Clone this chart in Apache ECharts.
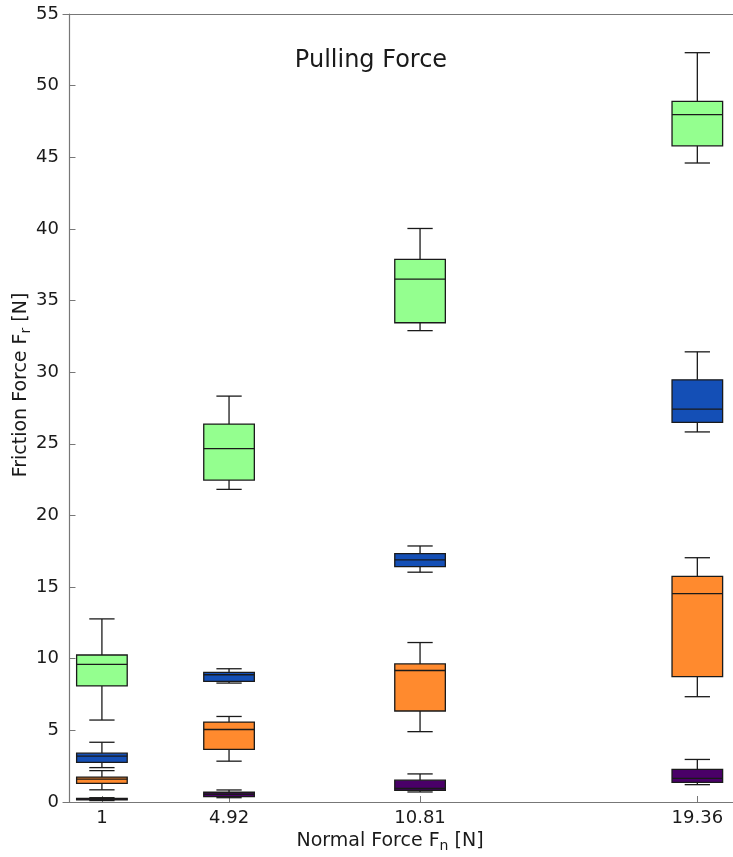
<!DOCTYPE html>
<html>
<head>
<meta charset="utf-8">
<script src="https://cdn.jsdelivr.net/npm/echarts@6/dist/echarts.min.js"></script>
<style>
  html, body { margin: 0; padding: 0; background: #fff; }
  #chart { width: 733px; height: 857px; }
</style>
</head>
<body>
<div id="chart"></div>
<script>
// Normal force levels on the x axis
const forces = [1, 4.92, 10.81, 19.36];
const forceTicks = ['1', '4.92', '10.81', '19.36'];
const yTicks = [0, 5, 10, 15, 20, 25, 30, 35, 40, 45, 50, 55];

// Box statistics per force level: [min, q1, median, q3, max]
const greenStats = [
  [5.72, 8.1, 9.6, 10.26, 12.78],
  [21.82, 22.47, 24.66, 26.38, 28.33],
  [32.9, 33.45, 36.5, 37.88, 40.03],
  [44.6, 45.8, 47.98, 48.9, 52.3]
];
const blueStats = [
  [2.4, 2.77, 3.2, 3.41, 4.17],
  [8.3, 8.42, 8.88, 9.05, 9.3],
  [16.04, 16.43, 16.9, 17.34, 17.87],
  [25.83, 26.5, 27.42, 29.47, 31.42]
];
const orangeStats = [
  [0.85, 1.3, 1.6, 1.74, 2.19],
  [2.85, 3.68, 5.06, 5.58, 5.97],
  [4.91, 6.35, 9.18, 9.64, 11.13],
  [7.35, 8.75, 14.55, 15.75, 17.05]
];
const purpleStats = [
  [0.1, 0.15, 0.2, 0.25, 0.3],
  [0.3, 0.37, 0.54, 0.68, 0.84],
  [0.7, 0.82, 0.95, 1.52, 1.96],
  [1.21, 1.37, 1.65, 2.28, 2.97]
];

const FONT = 'DejaVu Sans';
const BOX_WIDTH = 1.56;   // in x-axis units
const EDGE = '#1a1a1a';

function toRows(stats) {
  return stats.map((s, i) => [forces[i]].concat(s));
}

function renderBox(params, api) {
  const x = api.value(0);
  const pMin = api.coord([x, api.value(1)]);
  const pQ1 = api.coord([x, api.value(2)]);
  const pMed = api.coord([x, api.value(3)]);
  const pQ3 = api.coord([x, api.value(4)]);
  const pMax = api.coord([x, api.value(5)]);
  const w = api.size([BOX_WIDTH, 0])[0];
  const cx = pMed[0];
  const half = w / 2;
  const cap = w / 4;
  const lineStyle = { stroke: EDGE, lineWidth: 1.3 };
  return {
    type: 'group',
    children: [
      { type: 'line', shape: { x1: cx, y1: pMin[1], x2: cx, y2: pQ1[1] }, style: lineStyle },
      { type: 'line', shape: { x1: cx, y1: pQ3[1], x2: cx, y2: pMax[1] }, style: lineStyle },
      { type: 'line', shape: { x1: cx - cap, y1: pMin[1], x2: cx + cap, y2: pMin[1] }, style: lineStyle },
      { type: 'line', shape: { x1: cx - cap, y1: pMax[1], x2: cx + cap, y2: pMax[1] }, style: lineStyle },
      {
        type: 'rect',
        shape: { x: cx - half, y: pQ3[1], width: w, height: pQ1[1] - pQ3[1] },
        style: { fill: api.visual('color'), stroke: EDGE, lineWidth: 1.3 }
      },
      { type: 'line', shape: { x1: cx - half, y1: pMed[1], x2: cx + half, y2: pMed[1] }, style: lineStyle }
    ]
  };
}

function boxSeries(name, color, stats) {
  return {
    name: name,
    type: 'custom',
    xAxisIndex: 0,
    yAxisIndex: 0,
    renderItem: renderBox,
    itemStyle: { color: color },
    encode: { x: 0, y: [1, 2, 3, 4, 5] },
    data: toRows(stats),
    clip: true,
    silent: true
  };
}

const nameRich = {
  a: { fontFamily: FONT, fontSize: 19, color: '#1a1a1a', lineHeight: 19, verticalAlign: 'top' },
  s: { fontFamily: FONT, fontSize: 14, color: '#1a1a1a', lineHeight: 14, padding: [7, 0, 0, 0], verticalAlign: 'top' }
};

const chart = echarts.init(document.getElementById('chart'), null, { renderer: 'canvas' });

chart.setOption({
  animation: false,
  backgroundColor: '#ffffff',
  textStyle: { fontFamily: FONT },
  title: {
    text: 'Pulling Force',
    left: 366,
    top: 44,
    textAlign: 'center',
    textStyle: { fontFamily: FONT, fontSize: 24, fontWeight: 'normal', color: '#1a1a1a' }
  },
  grid: { left: 63, right: 0, top: 14, bottom: 55, containLabel: false, outerBoundsMode: 'none' },
  xAxis: [
    {
      type: 'value',
      min: -0.2,
      max: 20.46,
      position: 'bottom',
      name: '{a|Normal Force F}{s|n}{a| [N]}',
      nameLocation: 'middle',
      nameGap: 29,
      nameTextStyle: { rich: nameRich, padding: [0, 16, 0, 0] },
      axisLine: { show: true, lineStyle: { color: '#777', width: 1.2 } },
      axisTick: { show: true, inside: true, length: 6, customValues: forces, lineStyle: { color: '#777', width: 1 } },
      axisLabel: {
        show: true,
        customValues: forces,
        formatter: function (v) {
          const i = forces.indexOf(v);
          return i >= 0 ? forceTicks[i] : '';
        },
        fontFamily: FONT,
        fontSize: 18,
        color: '#1a1a1a',
        margin: 7
      },
      splitLine: { show: false }
    },
    {
      type: 'value',
      min: -0.2,
      max: 20.46,
      position: 'top',
      axisLine: { show: true, lineStyle: { color: '#777', width: 1.2 } },
      axisTick: { show: false },
      axisLabel: { show: false },
      splitLine: { show: false }
    }
  ],
  yAxis: {
    type: 'value',
    min: 0,
    max: 55,
    interval: 5,
    name: '{a|Friction Force F}{s|r}{a| [N]}',
    nameLocation: 'middle',
    nameGap: 32,
    nameMoveOverlap: false,
    nameRotate: 90,
    nameTextStyle: { rich: nameRich, padding: [0, 0, 0, 46] },
    axisLine: { show: true, lineStyle: { color: '#777', width: 1.2 } },
    axisTick: { show: true, inside: true, length: 6, lineStyle: { color: '#777', width: 1 } },
    axisLabel: {
      fontFamily: FONT,
      fontSize: 18,
      color: '#1a1a1a',
      margin: 4,
      formatter: function (v) { return yTicks.indexOf(v) >= 0 ? String(v) : ''; }
    },
    splitLine: { show: false }
  },
  series: [
    boxSeries('green', '#94ff8f', greenStats),
    boxSeries('blue', '#144fb6', blueStats),
    boxSeries('orange', '#ff8a2e', orangeStats),
    boxSeries('purple', '#4a0068', purpleStats)
  ]
});
</script>
</body>
</html>
